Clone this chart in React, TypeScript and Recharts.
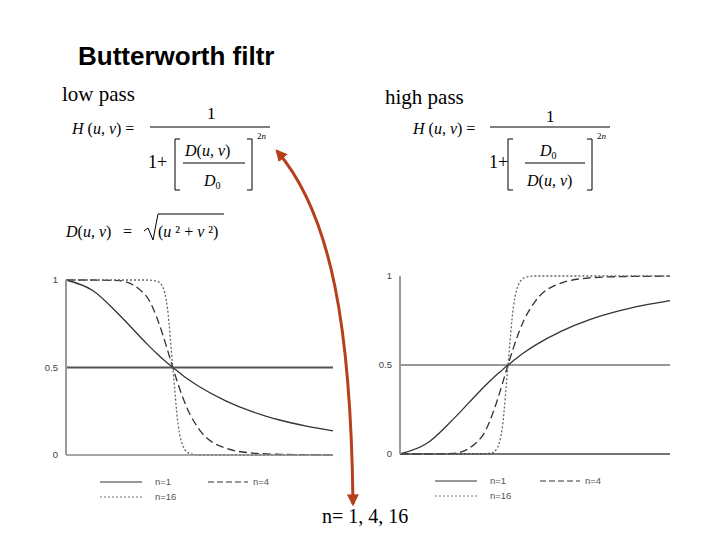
import { LineChart, Line, XAxis, YAxis, ReferenceLine } from "recharts";

// D(u,v)/D0 sample positions along the horizontal axis
const dRatio = [0, 0.25, 0.5, 0.75, 0.85, 0.9, 0.95, 1, 1.05, 1.1, 1.15, 1.25, 1.5, 1.75, 2, 2.25, 2.5];

// low pass curves
const lowN1 = [1, 0.94, 0.8, 0.64, 0.58, 0.552, 0.526, 0.5, 0.476, 0.452, 0.43, 0.39, 0.308, 0.246, 0.2, 0.165, 0.138];
const lowN4 = [1, 1, 0.996, 0.909, 0.786, 0.699, 0.601, 0.5, 0.404, 0.318, 0.246, 0.144, 0.038, 0.011, 0.004, 0.002, 0.001];
const lowN16 = [1, 1, 1, 1, 0.994, 0.967, 0.838, 0.5, 0.173, 0.045, 0.011, 0, 0, 0, 0, 0, 0];

// high pass curves
const highN1 = [0, 0.06, 0.2, 0.36, 0.42, 0.448, 0.474, 0.5, 0.524, 0.548, 0.57, 0.61, 0.692, 0.754, 0.8, 0.835, 0.862];
const highN4 = [0, 0, 0.004, 0.091, 0.214, 0.301, 0.399, 0.5, 0.596, 0.682, 0.754, 0.856, 0.962, 0.989, 0.996, 0.998, 0.999];
const highN16 = [0, 0, 0, 0, 0.006, 0.033, 0.162, 0.5, 0.827, 0.955, 0.989, 1, 1, 1, 1, 1, 1];

const yTicks = [0, 0.5, 1];
const legendLabels = ["n=1", "n=4", "n=16"];

const lowData = dRatio.map((d, i) => ({ d, n1: lowN1[i], n4: lowN4[i], n16: lowN16[i] }));
const highData = dRatio.map((d, i) => ({ d, n1: highN1[i], n4: highN4[i], n16: highN16[i] }));

const serif = "'Liberation Serif', 'Times New Roman', serif";
const sans = "'Liberation Sans', Arial, sans-serif";

const tickStyle = { fontSize: 9.5, fill: "#444", fontFamily: sans };

const FilterPlot = ({ data, left, top, height, width, axisColor, midColor, midWidth }) => (
	<div style={{ position: "absolute", left, top }}>
		<LineChart width={width} height={height} data={data} margin={{ top: 10, right: 10, bottom: 4, left: 0 }}>
			<XAxis dataKey="d" type="number" domain={[0, 2.5]} tick={false} tickLine={false} height={1} axisLine={{ stroke: axisColor, strokeWidth: 1.5 }} />
			<YAxis type="number" domain={[0, 1]} ticks={yTicks} width={46} tickLine={false} tick={tickStyle} tickFormatter={(v) => String(v)} axisLine={{ stroke: "#999", strokeWidth: 2 }} />
			<ReferenceLine y={0.5} stroke={midColor} strokeWidth={midWidth} />
			<Line type="monotone" dataKey="n1" stroke="#333" strokeWidth={1.3} dot={false} isAnimationActive={false} />
			<Line type="monotone" dataKey="n4" stroke="#333" strokeWidth={1.3} strokeDasharray="8 4" dot={false} isAnimationActive={false} />
			<Line type="monotone" dataKey="n16" stroke="#666" strokeWidth={1.3} strokeDasharray="2 2" dot={false} isAnimationActive={false} />
		</LineChart>
	</div>
);

const LegendBlock = ({ x, y, gap }) => (
	<g fontFamily={sans} fontSize={9.5} fill="#555">
		<line x1={x} x2={x + 42} y1={y} y2={y} stroke="#333" strokeWidth={1} />
		<text x={x + 55} y={y + 3}>{legendLabels[0]}</text>
		<line x1={x + gap} x2={x + gap + 40} y1={y} y2={y} stroke="#333" strokeWidth={1} strokeDasharray="6 3" />
		<text x={x + gap + 45} y={y + 3}>{legendLabels[1]}</text>
		<line x1={x} x2={x + 42} y1={y + 15} y2={y + 15} stroke="#777" strokeWidth={1} strokeDasharray="2 2" />
		<text x={x + 55} y={y + 18}>{legendLabels[2]}</text>
	</g>
);

const Huv = ({ x, y }) => (
	<text x={x} y={y} fontFamily={serif} fontSize={16}>
		<tspan fontStyle="italic">H</tspan> (<tspan fontStyle="italic">u</tspan>, <tspan fontStyle="italic">v</tspan>) =
	</text>
);

const Duv = ({ x, y }) => (
	<text x={x} y={y} fontFamily={serif} fontSize={16}>
		<tspan fontStyle="italic">D</tspan>(<tspan fontStyle="italic">u</tspan>, <tspan fontStyle="italic">v</tspan>)
	</text>
);

const D0 = ({ x, y }) => (
	<text x={x} y={y} fontFamily={serif} fontSize={16}>
		<tspan fontStyle="italic">D</tspan>
		<tspan fontSize={10} dy={3}>0</tspan>
	</text>
);

const Brackets = ({ l, r }) => (
	<g stroke="#000" strokeWidth={1} fill="none">
		<path d={`M${l + 5},139 L${l},139 L${l},190 L${l + 5},190`} />
		<path d={`M${r - 5},139 L${r},139 L${r},190 L${r - 5},190`} />
	</g>
);

export default function App() {
	return (
		<div style={{ position: "absolute", left: 0, top: 0, width: 720, height: 540, background: "#fff", overflow: "hidden" }}>
			<FilterPlot data={lowData} left={20} top={270} width={323} height={190} axisColor="#888" midColor="#555" midWidth={2} />
			<FilterPlot data={highData} left={354} top={266} width={326} height={193} axisColor="#444" midColor="#333" midWidth={1.2} />
			<svg width={720} height={540} style={{ position: "absolute", left: 0, top: 0, pointerEvents: "none" }}>
				<defs>
					<marker id="ah" viewBox="0 0 10 10" refX="8" refY="5" markerWidth="4" markerHeight="4" orient="auto-start-reverse">
						<path d="M0,0 L10,5 L0,10 z" fill="#b5401c" />
					</marker>
				</defs>
				<text x={78} y={65} fontFamily={sans} fontWeight="bold" fontSize={26} fill="#000">Butterworth filtr</text>

				{/* low pass formula */}
				<text x={62} y={101} fontFamily={serif} fontSize={21}>low pass</text>
				<Huv x={72} y={134} />
				<text x={207} y={119} fontFamily={serif} fontSize={17}>1</text>
				<line x1={150} x2={270} y1={127} y2={127} stroke="#000" />
				<text x={148} y={168} fontFamily={serif} fontSize={18}>1+</text>
				<Brackets l={175} r={252} />
				<Duv x={185} y={156} />
				<line x1={183} x2={245} y1={163} y2={163} stroke="#000" />
				<D0 x={204} y={186} />
				<text x={257} y={139} fontFamily={serif} fontSize={9}>2<tspan fontStyle="italic">n</tspan></text>

				{/* D(u,v) */}
				<Duv x={66} y={237} />
				<text x={123} y={237} fontFamily={serif} fontSize={16}>=</text>
				<path d="M144,231 L148,228 L153,240 L158,214 L224,214" stroke="#000" fill="none" strokeWidth={1} />
				<text x={158} y={237} fontFamily={serif} fontSize={16}>
					(<tspan fontStyle="italic">u</tspan> ² + <tspan fontStyle="italic">v</tspan> ²)
				</text>

				{/* high pass formula */}
				<text x={385} y={104} fontFamily={serif} fontSize={21}>high pass</text>
				<Huv x={413} y={134} />
				<text x={546} y={122} fontFamily={serif} fontSize={17}>1</text>
				<line x1={490} x2={610} y1={127} y2={127} stroke="#000" />
				<text x={489} y={168} fontFamily={serif} fontSize={18}>1+</text>
				<Brackets l={508} r={592} />
				<D0 x={540} y={156} />
				<line x1={525} x2={585} y1={163} y2={163} stroke="#000" />
				<Duv x={527} y={186} />
				<text x={597} y={139} fontFamily={serif} fontSize={9}>2<tspan fontStyle="italic">n</tspan></text>

				<LegendBlock x={100} y={482} gap={108} />
				<LegendBlock x={435} y={481} gap={105} />

				<path d="M353,504 C351,330 332,215 277,151" stroke="#b5401c" strokeWidth={3} fill="none" markerStart="url(#ah)" markerEnd="url(#ah)" />
				<text x={322} y={523} fontFamily={serif} fontSize={20}>n= 1, 4, 16</text>
			</svg>
		</div>
	);
}
